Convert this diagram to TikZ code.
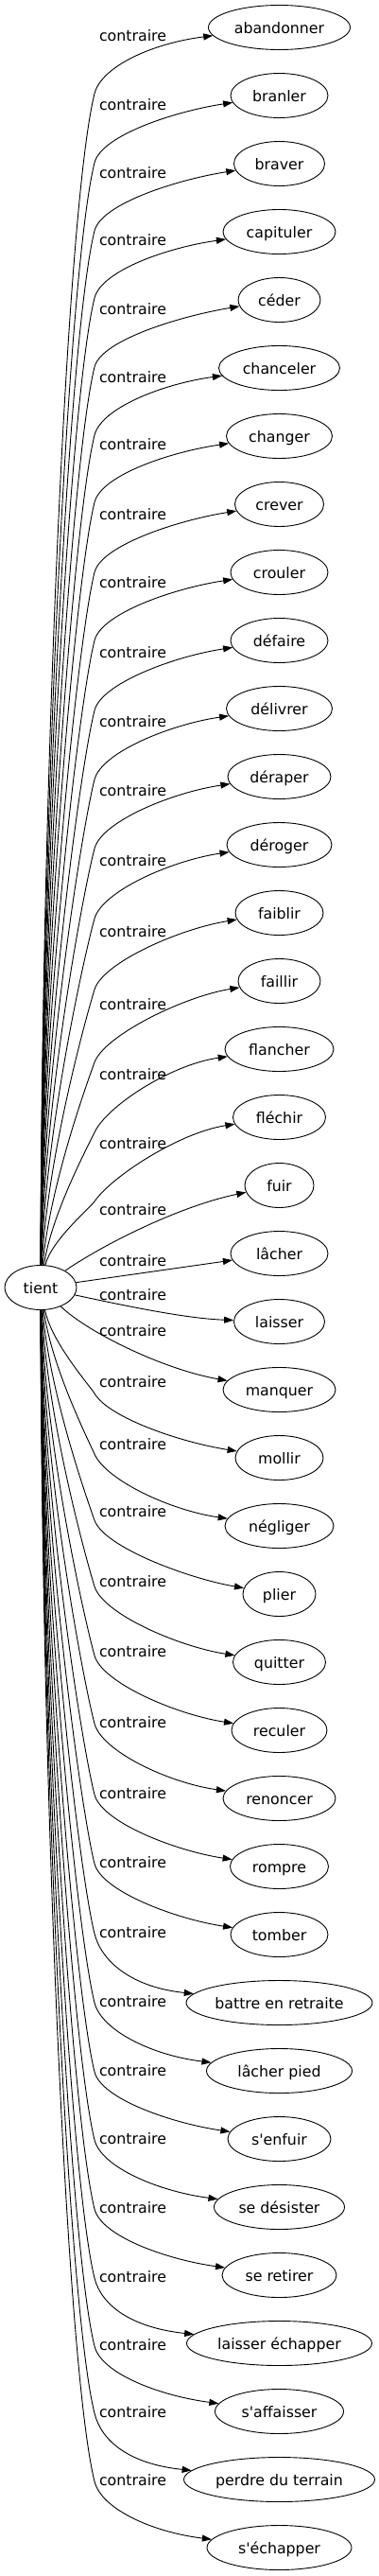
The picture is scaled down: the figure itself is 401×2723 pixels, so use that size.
\documentclass[tikz,border=0pt]{standalone}
\usepackage{fontspec}
\newfontfamily\dv{DejaVu Sans}
\usetikzlibrary{arrows.meta,shapes.geometric,calc}
\begin{document}
\begin{tikzpicture}[x=1pt,y=1pt,
  every node/.style={font=\dv\fontsize{15.8}{18}\selectfont},
  word/.style={draw, ellipse, line width=0.9pt, inner sep=0pt, minimum height=47pt, text height=12pt, text depth=0pt},
  lab/.style={inner sep=0pt, text height=12pt, text depth=0pt},
  edge/.style={draw, line width=0.9pt, -{Triangle[length=10pt,width=7pt]}}]
\useasboundingbox (0,0) rectangle (401,-2723);
\node[word, minimum width=76] (tient) at (43,-1361) {tient};
\foreach \i/\t/\w/\L in {0/abandonner/150/37, 1/branler/103/110, 2/braver/96/182,
  3/capituler/119/253, 4/céder/87/326, 5/chanceler/128/398, 6/changer/112/469,
  7/crever/94/543, 8/crouler/103/615, 9/défaire/103/689, 10/délivrer/112/762,
  11/déraper/109/835, 12/déroger/111/909, 13/faiblir/93/984, 14/faillir/87/1061,
  15/flancher/115/1135, 16/fléchir/98/1208, 17/fuir/73/1278, 18/lâcher/103/1332,
  19/laisser/96/1368, 20/manquer/119/1406, 21/mollir/93/1460, 22/négliger/115/1526,
  23/plier/77/1597, 24/quitter/98/1671, 25/reculer/101/1745, 26/renoncer/119/1820,
  27/rompre/104/1895, 28/tomber/103/1968, 29/battre en retraite/197/2042,
  30/lâcher pied/154/2115, 31/s'enfuir/109/2188, 32/se désister/138/2260,
  33/se retirer/121/2333, 34/laisser échapper/196/2406, 35/s'affaisser/136/2478,
  36/perdre du terrain/202/2549, 37/s'échapper/153/2621}{
  \node[word, minimum width=\w] (n\i) at (295.5,{-(29+72*\i)}) {\t};
  \node[lab] (l\i) at (140.5,-\L) {contraire};
}
% upper fan
\foreach \i/\L in {0/37,1/110,2/182,3/253,4/326,5/398,6/469,7/543,8/615,9/689,
  10/762,11/835,12/909,13/984,14/1061,15/1135,16/1208}{
  \pgfmathsetmacro\By{\L+62}
  \pgfmathsetmacro\D{1338-\By}
  \pgfmathsetmacro\a{14+35*exp(-\D/120)}
  \pgfmathsetmacro\b{max(0,\a-14)}
  \pgfmathsetmacro\cax{44+0.4*\D*sin(\b)}
  \pgfmathsetmacro\cay{-(1338-0.4*\D*cos(\b))}
  \pgfmathsetmacro\cbx{100-0.1*\D*sin(\a)}
  \pgfmathsetmacro\cby{-(\By+0.1*\D*cos(\a))}
  \pgfmathsetmacro\ccx{100+30*sin(\a)}
  \pgfmathsetmacro\ccy{-(\By-30*cos(\a))}
  \draw[edge] (tient) .. controls (\cax,\cay) and (\cbx,\cby) .. (100,-\By)
    .. controls (\ccx,\ccy) and ($(n\i.west)+(-57.7,-16.5)$) .. (n\i);
}
% lower fan
\foreach \i/\By in {21/1473,22/1537,23/1607,24/1677,25/1750,26/1822,27/1897,
  28/1970,29/2044,30/2117,31/2190,32/2262,33/2335,34/2408,35/2480,36/2551,37/2623}{
  \pgfmathsetmacro\D{\By-1385}
  \pgfmathsetmacro\a{14+35*exp(-\D/120)}
  \pgfmathsetmacro\b{max(0,\a-14)}
  \pgfmathsetmacro\cax{44+0.4*\D*sin(\b)}
  \pgfmathsetmacro\cay{-(1385+0.4*\D*cos(\b))}
  \pgfmathsetmacro\cbx{100-0.1*\D*sin(\a)}
  \pgfmathsetmacro\cby{-(\By-0.1*\D*cos(\a))}
  \pgfmathsetmacro\ccx{100+30*sin(\a)}
  \pgfmathsetmacro\ccy{-(\By+30*cos(\a))}
  \draw[edge] (tient) .. controls (\cax,\cay) and (\cbx,\cby) .. (100,-\By)
    .. controls (\ccx,\ccy) and ($(n\i.west)+(-57.7,16.5)$) .. (n\i);
}
% near edges
\draw[edge] (tient) .. controls (110,-1315) and (190,-1275) .. (n17);
\draw[edge] (tient) -- (n18);
\draw[edge] (tient) .. controls (140,-1382) and (200,-1394) .. (n19);
\draw[edge] (tient) .. controls (95,-1410) and (175,-1448) .. (n20);
\end{tikzpicture}
\end{document}
